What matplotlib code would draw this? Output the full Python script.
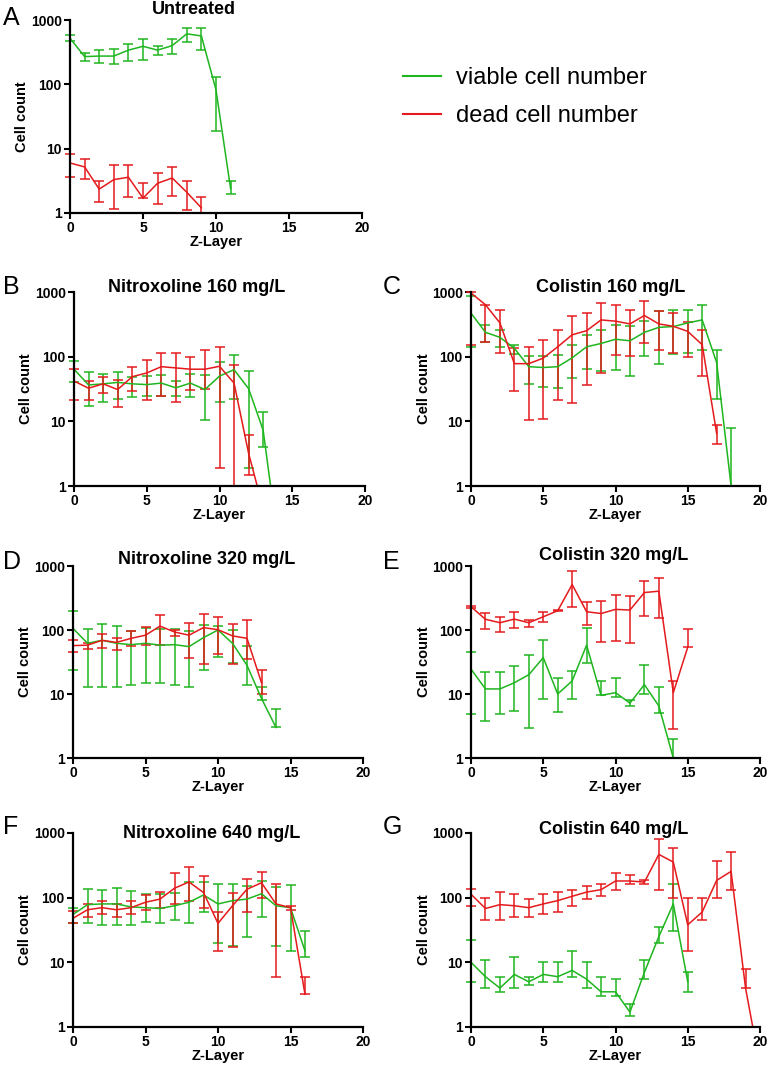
import numpy as np
import matplotlib
matplotlib.use("Agg")
import matplotlib.pyplot as plt
from matplotlib.lines import Line2D
from matplotlib.ticker import NullLocator, FixedLocator
from matplotlib.transforms import Bbox, TransformedBbox

plt.rcParams['font.family'] = ['Liberation Sans', 'DejaVu Sans']

GREEN = '#1fb51f'
RED = '#e41a1c'

# ---- data: cell counts per Z-layer (mean, upper and lower error ends) ----
a_live = [520, 270, 275, 275, 340, 390, 340, 400, 610, 565, 82, 2.4]
a_live_hi = [580, 310, 340, 350, 430, 500, 390, 500, 740, 760, 130, 3.2]
a_live_lo = [470, 230, 215, 210, 230, 240, 285, 300, 450, 340, 19, 2.0]
a_dead = [6.0, 5.2, 2.35, 3.3, 3.6, 1.7, 2.9, 3.5, 2.1, 1.2]
a_dead_hi = [8.3, 6.8, 3.1, 5.5, 5.5, 2.9, 4.2, 5.1, 3.1, 1.75]
a_dead_lo = [3.6, 3.4, 1.5, 1.15, 1.8, 1.7, 1.4, 1.85, 1.1, 1.0]

b_live = [64, 36.5, 38, 40, 38, 37, 39, 33, 39, 31, 50, 63, 32, 7.3, 0.15]
b_live_hi = [85, 57, 53, 57, 48, 50, 52, 42, 54, 52, 83, 105, 60, 14, 0.15]
b_live_lo = [41, 17, 20, 22, 24, 25, 25, 25, 24, 10.5, 20, 22, 1.9, 4, 0.15]
b_dead = [42, 32.5, 38, 31, 49, 56, 70, 67, 64, 64, 71, 39, 3.2, 0.45]
b_dead_hi = [64, 42, 48, 43, 70, 89, 114, 113, 98, 127, 140, 74, 6.1, 0.45]
b_dead_lo = [21, 21, 27, 16.5, 29, 21, 25, 20, 31, 32, 1.9, 0.5, 1.5, 0.45]

c_live = [471, 238, 199, 135, 70, 68, 70, 96, 142, 160, 186, 176, 238, 284, 292, 333, 370, 81, 1.0]
c_live_hi = [860, 313, 260, 150, 102, 103, 106, 150, 218, 260, 310, 300, 360, 500, 520, 530, 620, 125, 8]
c_live_lo = [142, 170, 140, 110, 38, 34, 33, 46, 65, 61, 63, 51, 102, 76, 109, 115, 125, 22, 1.0]
c_dead = [965, 635, 333, 78, 78, 95, 142, 218, 252, 370, 354, 321, 433, 321, 295, 246, 153, 6.5]
c_dead_hi = [990, 640, 530, 134, 142, 180, 259, 420, 476, 680, 620, 530, 724, 506, 475, 340, 258, 8.9]
c_dead_lo = [150, 170, 112, 29, 10.4, 11, 21, 19.5, 37, 55, 105, 103, 160, 128, 112, 100, 50, 4.5]

d_live = [106, 62, 69, 62, 59, 62, 58, 59, 55, 76, 100, 62, 28, 8.5, 3.0]
d_live_hi = [196, 105, 122, 115, 96, 108, 102, 105, 96, 120, 115, 99, 57, 13, 5.8]
d_live_lo = [24, 13, 13, 13, 14, 15, 15, 14, 13, 24, 38, 30, 14, 8, 3.0]
d_dead = [57, 58, 69, 64, 74, 83, 115, 93, 83, 109, 101, 81, 74, 15]
d_dead_hi = [70, 62, 88, 74, 96, 110, 174, 100, 127, 180, 160, 122, 145, 24]
d_dead_lo = [46, 50, 53, 49, 57, 59, 59, 81, 36, 29, 42, 29, 35, 10]

e_live = [24.5, 12, 12, 15, 20, 37, 10, 16, 58, 9.5, 10.5, 7.2, 14, 6.5, 1.0]
e_live_hi = [46, 22, 22, 27, 40, 70, 18, 23, 109, 16, 18, 8, 28, 13, 2.0]
e_live_lo = [4.9, 3.8, 4.9, 5.5, 2.9, 8.5, 5.3, 8.5, 30, 9.5, 9, 6.5, 10, 5, 1.0]
e_dead = [231, 147, 130, 148, 130, 161, 200, 513, 193, 181, 210, 205, 385, 404, 10.5, 54]
e_dead_hi = [240, 183, 161, 189, 145, 193, 205, 836, 275, 286, 350, 337, 585, 650, 16, 105]
e_dead_lo = [222, 103, 92, 106, 112, 135, 195, 231, 120, 64, 68, 62, 167, 152, 2.8, 54]

f_live = [55, 78, 80, 80, 72, 70, 68, 75, 85, 110, 80, 90, 95, 115, 75, 70, 15]
f_live_hi = [70, 136, 130, 141, 129, 112, 115, 120, 174, 174, 163, 163, 150, 180, 147, 158, 30]
f_live_lo = [40, 40, 38, 38, 38, 42, 40, 45, 40, 60, 20, 18, 25, 50, 18, 15, 12]
f_dead = [48, 65, 70, 65, 70, 85, 95, 140, 175, 120, 40, 75, 135, 170, 80, 70, 3.2]
f_dead_hi = [62, 80, 90, 80, 90, 110, 123, 245, 300, 215, 60, 120, 196, 250, 160, 75, 6]
f_dead_lo = [40, 50, 55, 50, 55, 65, 70, 80, 90, 70, 15, 17, 60, 100, 6, 65, 3.2]

g_live = [10, 6, 4, 6.5, 5, 6.5, 6, 7.5, 5.5, 3.5, 3.5, 1.7, 7, 25, 80, 5]
g_live_hi = [22, 11, 6, 12, 6, 10, 10, 15, 10, 6, 5.5, 2.3, 11, 35, 160, 7]
g_live_lo = [5, 4, 3.5, 4, 4.5, 5, 5, 6, 4, 3, 3, 1.5, 5.5, 20, 30, 3.5]
g_dead = [113, 68, 78, 75, 70, 80, 90, 105, 122, 133, 181, 181, 174, 467, 355, 38, 60, 185, 255, 4, 0.25]
g_dead_hi = [135, 100, 122, 113, 97, 114, 122, 130, 152, 165, 245, 223, 190, 800, 590, 100, 100, 364, 500, 8, 0.25]
g_dead_lo = [75, 45, 45, 50, 50, 55, 60, 75, 95, 105, 130, 160, 165, 130, 100, 15, 45, 100, 130, 4, 0.25]

letters = ['A', 'B', 'C', 'D', 'E', 'F', 'G']
titles = ['Untreated', 'Nitroxoline 160 mg/L', 'Colistin 160 mg/L',
          'Nitroxoline 320 mg/L', 'Colistin 320 mg/L',
          'Nitroxoline 640 mg/L', 'Colistin 640 mg/L']
live_sets = [(a_live, a_live_lo, a_live_hi), (b_live, b_live_lo, b_live_hi),
             (c_live, c_live_lo, c_live_hi), (d_live, d_live_lo, d_live_hi),
             (e_live, e_live_lo, e_live_hi), (f_live, f_live_lo, f_live_hi),
             (g_live, g_live_lo, g_live_hi)]
dead_sets = [(a_dead, a_dead_lo, a_dead_hi), (b_dead, b_dead_lo, b_dead_hi),
             (c_dead, c_dead_lo, c_dead_hi), (d_dead, d_dead_lo, d_dead_hi),
             (e_dead, e_dead_lo, e_dead_hi), (f_dead, f_dead_lo, f_dead_hi),
             (g_dead, g_dead_lo, g_dead_hi)]

# ---- layout in pixels (left, top, right, bottom) ----
W, H = 770, 1065
boxes = [(70, 20, 362, 213), (74, 292, 365, 486), (471, 292, 760, 486),
         (73, 566, 363, 758), (471, 566, 760, 758),
         (73, 833, 363, 1027), (471, 833, 760, 1027)]
title_x = [0.425, 0.42, 0.484, 0.462, 0.495, 0.479, 0.495]
title_dy = [10, 4, 5, 6, 11, 0, 3]
letter_pos = [(3, 18), (3, 287), (383, 287), (3, 562), (383, 562), (3, 827), (383, 827)]

fig = plt.figure(figsize=(W / 100, H / 100), dpi=100)


def draw_series(ax, vals, lo, hi, color, clipbox):
    vals = np.asarray(vals, dtype=float)
    lo = np.asarray(lo, dtype=float)
    hi = np.asarray(hi, dtype=float)
    z = np.arange(len(vals))
    cont = ax.errorbar(z, vals, yerr=[vals - lo, hi - vals], color=color,
                       lw=1.1, elinewidth=1.1, capsize=3.5, capthick=1.1)
    for art in [cont.lines[0]] + list(cont.lines[1]) + list(cont.lines[2]):
        art.set_clip_box(clipbox)


for i, (l, t, r, b) in enumerate(boxes):
    ax = fig.add_axes([l / W, 1 - b / H, (r - l) / W, (b - t) / H])
    ax.set_yscale('log')
    ax.set_xlim(0, 20)
    ax.set_ylim(1, 1000)
    clipbox = TransformedBbox(Bbox([[-0.03, 0.0], [1.03, 1.05]]), ax.transAxes)

    draw_series(ax, *live_sets[i], GREEN, clipbox)
    draw_series(ax, *dead_sets[i], RED, clipbox)

    for side in ['top', 'right']:
        ax.spines[side].set_visible(False)
    for side in ['left', 'bottom']:
        ax.spines[side].set_linewidth(1.6)
    ax.yaxis.set_major_locator(FixedLocator([1, 10, 100, 1000]))
    ax.yaxis.set_minor_locator(NullLocator())
    ax.set_yticklabels(['1', '10', '100', '1000'])
    ax.set_xticks([0, 5, 10, 15, 20])
    ax.tick_params(direction='out', length=4, width=1.5, pad=2, labelsize=10)
    for lab in ax.get_xticklabels() + ax.get_yticklabels():
        lab.set_fontweight('bold')

    ax.set_xlabel('Z-Layer', fontsize=10.5, fontweight='bold', labelpad=0)
    ax.set_ylabel('Cell count', fontsize=10.5, fontweight='bold')
    ax.yaxis.set_label_coords(-0.14, 0.5)

    ax.text(title_x[i], 1.0 + title_dy[i] / (b - t), titles[i], transform=ax.transAxes,
            ha='center', va='center', fontsize=13, fontweight='bold')

    lx, ly = letter_pos[i]
    fig.text(lx / W, 1 - ly / H, letters[i], ha='left', va='center', fontsize=18)

handles = [Line2D([], [], color=GREEN, lw=1.5), Line2D([], [], color=RED, lw=1.5)]
fig.legend(handles, ['viable cell number', 'dead cell number'], loc='upper left',
           bbox_to_anchor=(403 / W, 1 - 67 / H), frameon=False, fontsize=17,
           handlelength=1.6, handletextpad=0.65, labelspacing=0.68,
           borderpad=0, borderaxespad=0)

fig.savefig('out.png', dpi=100)
